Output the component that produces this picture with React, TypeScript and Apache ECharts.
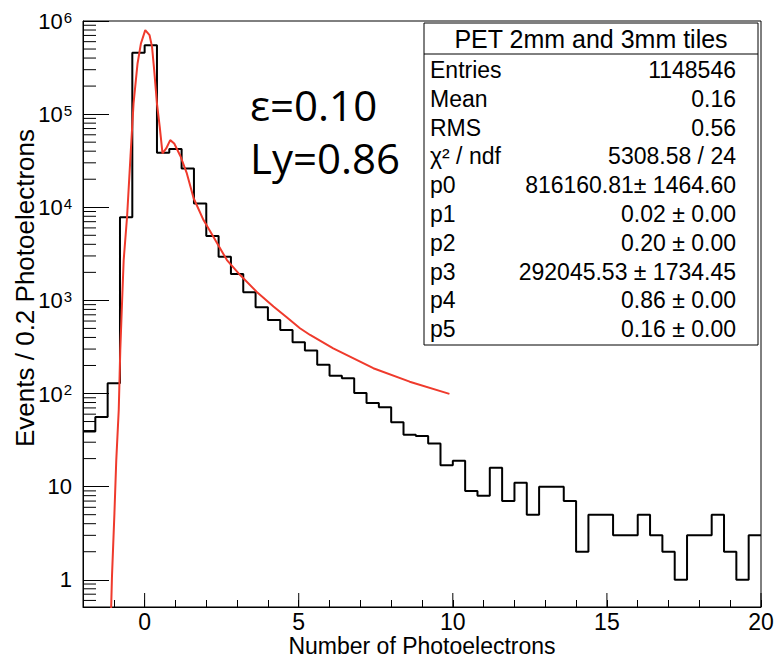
import React, { useEffect, useRef } from 'react';
import * as echarts from 'echarts';

// ---- data ----
const BIN_LOW = -2;
const BIN_WIDTH = 0.4;
const counts = [
  39, 56, 129, 7800, 455000, 550000, 38400, 42100, 26100, 11000,
  4900, 2950, 1920, 1220, 843, 616, 481, 355, 290, 203,
  155, 146, 101, 79, 71, 49, 36, 35, 29, 17,
  19, 9, 8, 16, 7, 11, 5, 10, 10, 7,
  2, 5, 5, 3, 3, 5, 3, 2, 1, 3,
  3, 5, 2, 1, 3,
];

const fitX = [
  -1.09, -1.06, -0.98, -0.92, -0.84, -0.79, -0.73, -0.68, -0.57, -0.46,
  -0.36, -0.23, -0.12, 0.02, 0.16, 0.24, 0.31, 0.4, 0.49, 0.58,
  0.7, 0.83, 0.96, 1.16, 1.37, 1.59, 1.91, 2.23, 2.67, 3.1,
  3.64, 4.18, 4.62, 5.04, 5.37, 6.12, 7.42, 8.6, 9.89,
];
const fitY = [
  0.45, 1.08, 5.2, 19.4, 67, 294, 1010, 2710, 7900, 34800,
  130000, 350000, 574000, 797000, 704000, 527000, 297000, 130000, 73100, 37900,
  42800, 52600, 48400, 35500, 23100, 12500, 7290, 4820, 2710, 1870,
  1230, 860, 655, 502, 425, 306, 187, 134, 99,
];

const xMin = -2;
const xMax = 20;
const yMin = 0.51;
const yMax = 1e6;
const xMajorTicks = [0, 5, 10, 15, 20];

const statTitle = 'PET 2mm and 3mm tiles';
const statLabels = ['Entries', 'Mean', 'RMS', 'χ² / ndf', 'p0', 'p1', 'p2', 'p3', 'p4', 'p5'];
const statValues = [
  '1148546', '0.16', '0.56', '5308.58 / 24', '816160.81± 1464.60',
  '0.02 ± 0.00', '0.20 ± 0.00', '292045.53 ± 1734.45', '0.86 ± 0.00', '0.16 ± 0.00',
];
const noteLines = ['ε=0.10', 'Ly=0.86'];

const xTitle = 'Number of Photoelectrons';
const yTitle = 'Events / 0.2 Photoelectrons';

const FONT = "'Liberation Sans', Arial, Helvetica, sans-serif";

export default function App() {
  const ref = useRef<HTMLDivElement>(null);

  useEffect(() => {
    if (!ref.current) return;
    const chart = echarts.init(ref.current, undefined, { renderer: 'svg' });

    const histData: [number, number][] = counts.map((c, i) => [BIN_LOW + i * BIN_WIDTH, c]);
    histData.push([BIN_LOW + counts.length * BIN_WIDTH, counts[counts.length - 1]]);
    const fitData = fitX.map((x, i) => [x, fitY[i]]);

    // minor log ticks (2..9 x 10^n) within the axis range
    const yMinor: number[][] = [];
    for (let e = -1; e < 6; e++) {
      for (let k = 2; k <= 9; k++) {
        const v = k * Math.pow(10, e);
        if (v > yMin && v < yMax) yMinor.push([xMin, v]);
      }
    }

    const boxL = 424, boxR = 758, boxT = 23, boxB = 345;
    const rowY0 = 70, rowStep = 28.8;
    const statChildren: any[] = [
      { type: 'rect', shape: { x: boxL, y: boxT, width: boxR - boxL, height: boxB - boxT }, style: { fill: '#fff', stroke: '#000', lineWidth: 1 } },
      { type: 'line', shape: { x1: boxL, y1: 54, x2: boxR, y2: 54 }, style: { stroke: '#000', lineWidth: 1 } },
      { type: 'text', x: (boxL + boxR) / 2, y: 39, style: { text: statTitle, fontSize: 25, fontFamily: FONT, fill: '#000', align: 'center', verticalAlign: 'middle' } },
    ];
    statLabels.forEach((lab, i) => {
      statChildren.push({ type: 'text', x: 430, y: rowY0 + i * rowStep, style: { text: lab, fontSize: 23, fontFamily: FONT, fill: '#000', align: 'left', verticalAlign: 'middle' } });
      statChildren.push({ type: 'text', x: 736, y: rowY0 + i * rowStep, style: { text: statValues[i], fontSize: 23, fontFamily: FONT, fill: '#000', align: 'right', verticalAlign: 'middle' } });
    });

    chart.setOption({
      animation: false,
      backgroundColor: '#fff',
      grid: {
        left: 83, right: 14, top: 21, bottom: 55, show: true, borderColor: '#000', borderWidth: 1,
        containLabel: false, outerBoundsMode: 'none',
      },
      xAxis: {
        type: 'value', min: xMin, max: xMax, interval: 1,
        axisLine: { show: true, onZero: false, lineStyle: { color: '#000', width: 1 } },
        axisTick: { show: true, inside: true, length: 7, lineStyle: { color: '#000' } },
        splitLine: { show: false },
        axisLabel: {
          color: '#000', fontSize: 23, fontFamily: FONT, margin: 4, lineHeight: 22,
          formatter: (v: number) => (v >= 0 && Math.abs(v % 5) < 1e-9 ? String(v) : ''),
        },
        name: xTitle, nameLocation: 'middle', nameGap: 28, nameMoveOverlap: false,
        nameTextStyle: { color: '#000', fontSize: 23, fontFamily: FONT, lineHeight: 22 },
      },
      yAxis: {
        type: 'log', logBase: 10, min: yMin, max: yMax,
        axisLine: { show: true, onZero: false, lineStyle: { color: '#000', width: 1 } },
        axisTick: { show: true, inside: true, length: 26, lineStyle: { color: '#000' } },
        splitLine: { show: false },
        axisLabel: {
          color: '#000', fontSize: 22, fontFamily: FONT, margin: 11,
          formatter: (v: number) => {
            const l = Math.log10(v);
            const e = Math.round(l);
            if (Math.abs(l - e) > 1e-6) return '';
            if (e === 0) return '1';
            if (e === 1) return '10';
            return `{b|10}{s|${e}}`;
          },
          rich: {
            b: { fontSize: 22, fontFamily: FONT, color: '#000', verticalAlign: 'bottom' },
            s: { fontSize: 15, fontFamily: FONT, color: '#000', verticalAlign: 'top', padding: [0, 0, 8, 1] },
          },
        },
      },
      graphic: [
        { type: 'group', children: statChildren, z: 100 },
        { type: 'text', x: 250, y: 104, style: { text: noteLines[0], fontSize: 42, fontFamily: "'Open Sans', sans-serif", fill: '#000', align: 'left', verticalAlign: 'middle' }, z: 100 },
        { type: 'text', x: 250, y: 157, style: { text: noteLines[1], fontSize: 42, fontFamily: "'Open Sans', sans-serif", fill: '#000', align: 'left', verticalAlign: 'middle' }, z: 100 },
        { type: 'text', x: 25, y: 288, rotation: Math.PI / 2, style: { text: yTitle, fontSize: 26, fontFamily: FONT, fill: '#000', align: 'center', verticalAlign: 'middle' } },
      ],
      series: [
        {
          type: 'line', data: histData, step: 'end', showSymbol: false, symbol: 'none',
          lineStyle: { color: '#000', width: 2 }, clip: true, z: 3, silent: true,
        },
        {
          type: 'line', data: fitData, showSymbol: false, symbol: 'none', smooth: false,
          lineStyle: { color: '#ef3a2c', width: 2 }, clip: true, z: 4, silent: true,
        },
        {
          type: 'custom', silent: true, z: 5,
          data: xMajorTicks.map((x) => [x, yMin]),
          renderItem: (_p: any, api: any) => {
            const pt = api.coord([api.value(0), api.value(1)]);
            return { type: 'line', shape: { x1: pt[0], y1: pt[1], x2: pt[0], y2: pt[1] - 14 }, style: { stroke: '#000', lineWidth: 1 } };
          },
        },
        {
          type: 'custom', silent: true, z: 5,
          data: yMinor,
          renderItem: (_p: any, api: any) => {
            const pt = api.coord([api.value(0), api.value(1)]);
            return { type: 'line', shape: { x1: pt[0], y1: pt[1], x2: pt[0] + 13, y2: pt[1] }, style: { stroke: '#000', lineWidth: 1 } };
          },
        },
      ],
    });

    return () => chart.dispose();
  }, []);

  return (
    <div
      ref={ref}
      style={{ position: 'fixed', left: 0, top: 0, width: 775, height: 662, background: '#fff' }}
    />
  );
}
